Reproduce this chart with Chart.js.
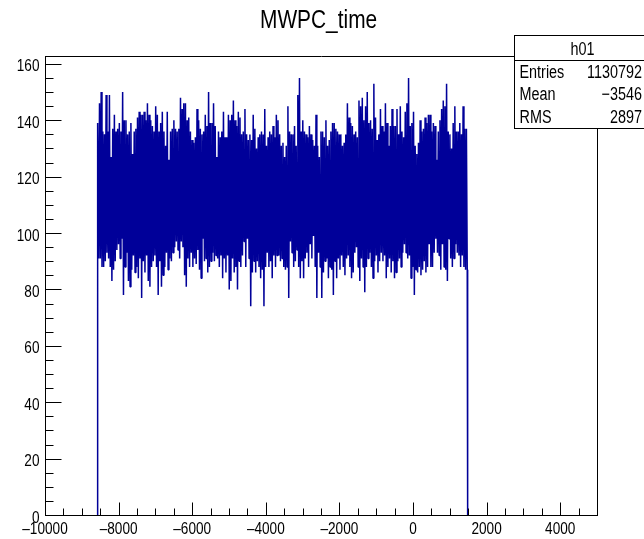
<!DOCTYPE html>
<html><head><meta charset="utf-8">
<script src="https://cdn.jsdelivr.net/npm/chart.js@4.4.1/dist/chart.umd.min.js"></script>
<style>html,body{margin:0;padding:0;background:#fff;overflow:hidden}</style>
</head><body>
<canvas id="c" width="644" height="539"></canvas>
<script>
// ---- text ----
const chartTitle = "MWPC_time";
const histName = "h01";
const statLabels = ["Entries", "Mean", "RMS"];
const statValues = ["1130792", "\u22123546", "2897"];

// ---- axes ----
const xMin = -10000, xMax = 5000;
const xTickValues = [-10000, -8000, -6000, -4000, -2000, 0, 2000, 4000];
const xMinorStep = 500;
const yMin = 0, yMax = 162.8;
const yTickValues = [0, 20, 40, 60, 80, 100, 120, 140, 160];
const yMinorStep = 5;

// ---- histogram (read per ~1.7px column: max / min of the bins in that column) ----
const xFirst = -8575, xLast = 1485;   // filled range of the histogram
const firstBin = 112, lastBin = 58;    // edge bins
const binMaxA = [139,146,150,136,135,149,136,149,127,137,142,136,137,139,136,150,140,140,135,136,139,128,136,137,141,143,142,142,143,140,146,142,140,138,136,145,142,136,139,143,136,131,143,126,136,137,140,137,136,137,148,144,146,146,140,141,136,133,132];
const binMinA = [91,91,88,88,90,93,91,88,83,87,90,94,96,91,98,78,88,93,83,81,87,92,86,88,84,91,77,90,86,92,83,81,88,90,92,88,78,90,81,85,88,93,87,91,90,93,95,97,94,91,97,95,85,81,91,88,93,88,91];
const binMaxB = [134,144,140,137,135,136,142,138,150,139,139,146,138,127,136,134,136,143,134,134,142,140,142,147,140,138,143,141,135,136,144,135,133,135,133,142,137,130,134,135,136,135,144,131,134,136,135,138,134,142,140,135,131,132,127,131,145,136,135,135,138];
const binMinB = [89,94,87,84,98,90,91,86,88,90,93,90,92,91,88,92,84,91,86,92,80,83,91,86,88,80,90,88,92,97,88,98,91,74,86,90,86,90,88,84,87,74,88,93,88,90,84,92,88,92,92,90,91,88,87,88,77,97,93,88,90];
const binMaxC = [131,149,155,136,140,136,135,134,138,135,133,131,142,131,127,136,136,134,140,131,133,136,139,139,137,136,135,135,131,132,135,146,141,139,138,135,136,134,147,145,148,140,145,150,139,140,137,153,141,133,135,144,138,136,146,139,131,138,144,138];
const binMinC = [94,88,84,90,84,91,93,88,96,91,99,88,77,93,88,77,86,90,91,84,88,87,78,90,84,91,87,92,88,85,91,92,88,84,86,93,95,88,83,91,88,79,88,91,93,88,84,90,92,86,90,93,90,92,84,88,91,86,90,84];
const binMaxD = [138,144,135,145,136,134,143,146,155,138,139,143,131,128,132,140,136,137,141,139,142,142,136,139,138,126,136,140,144,147,145,153,136,135,130,139,145,136,136,139,135,145,137,137];
const binMinD = [86,90,91,88,93,96,93,91,92,84,88,78,87,86,88,85,87,90,86,88,96,88,88,93,98,93,92,87,96,88,87,83,98,91,88,91,96,93,92,88,92,88,87,87];

const binMax = [].concat(binMaxA, binMaxB, binMaxC, binMaxD);
const binMin = [].concat(binMinA, binMinB, binMinC, binMinD);

// polyline: histogram drawn as max/min per pixel column
const nCol = binMax.length;
const colW = (xLast - xFirst) / nCol;
const pts = [{x: xFirst, y: 0}, {x: xFirst, y: firstBin}];
for (let i = 0; i < nCol; i++) {
  pts.push({x: xFirst + (i + 0.25) * colW, y: binMax[i]});
  pts.push({x: xFirst + (i + 0.75) * colW, y: binMin[i]});
}
pts.push({x: xLast, y: lastBin});
pts.push({x: xLast, y: 0});

const FONT = '"Liberation Sans", Arial, Helvetica, sans-serif';
const SX = 0.8;  // horizontally condensed text, as in the reference
const fmt = v => String(v).replace('-', '\u2013');

function narrowText(ctx, txt, x, y, size, align, sx) {
  ctx.save();
  ctx.font = size + 'px ' + FONT;
  ctx.textAlign = align;
  ctx.textBaseline = 'alphabetic';
  ctx.translate(x, y);
  ctx.scale(sx || SX, 1);
  ctx.fillText(txt, 0, 0);
  ctx.restore();
}

const rootPlugin = {
  id: 'rootFrame',
  afterDraw(chart) {
    const ctx = chart.ctx, a = chart.chartArea;
    const xs = chart.scales.x, ys = chart.scales.y;
    ctx.save();
    ctx.strokeStyle = '#000';
    ctx.fillStyle = '#000';
    ctx.lineWidth = 1;
    const L = Math.round(a.left) + 0.5, R = Math.round(a.right) + 0.5;
    const T = Math.round(a.top) + 0.5, B = Math.round(a.bottom) + 0.5;
    // frame top and right
    ctx.beginPath();
    ctx.moveTo(L, T); ctx.lineTo(R, T); ctx.lineTo(R, B);
    ctx.stroke();
    // inward ticks
    ctx.beginPath();
    for (let v = yMin; v <= yMax; v += yMinorStep) {
      const y = Math.round(ys.getPixelForValue(v)) + 0.5;
      const len = yTickValues.includes(v) ? 16 : 8;
      ctx.moveTo(L, y); ctx.lineTo(L + len, y);
    }
    for (let v = xMin + xMinorStep; v < xMax; v += xMinorStep) {
      const x = Math.round(xs.getPixelForValue(v)) + 0.5;
      const len = xTickValues.includes(v) ? 13 : 7;
      ctx.moveTo(x, B); ctx.lineTo(x, B - len);
    }
    ctx.stroke();
    // tick labels from the scales' ticks
    ys.ticks.forEach(t => {
      narrowText(ctx, fmt(t.value), 39.5, ys.getPixelForValue(t.value) + 7.5, 17, 'right');
    });
    xs.ticks.forEach(t => {
      narrowText(ctx, fmt(t.value), xs.getPixelForValue(t.value), 533.5, 17, 'center');
    });
    // title
    narrowText(ctx, chartTitle, 318.6, 27.5, 25, 'center', 0.835);
    // stats box
    const bx = 514.5, by = 35.5, bw = 140, bh = 93;
    ctx.fillStyle = '#fff';
    ctx.fillRect(bx, by, bw, bh);
    ctx.strokeRect(bx, by, bw, bh);
    ctx.beginPath(); ctx.moveTo(bx, 60.5); ctx.lineTo(bx + bw, 60.5); ctx.stroke();
    ctx.fillStyle = '#000';
    narrowText(ctx, histName, 582.5, 54.5, 18, 'center');
    const rowY = [77.5, 100, 122.5];
    for (let i = 0; i < statLabels.length; i++) {
      narrowText(ctx, statLabels[i], 519.5, rowY[i], 18, 'left');
      narrowText(ctx, statValues[i], 642, rowY[i], 18, 'right');
    }
    ctx.restore();
  }
};

new Chart(document.getElementById('c'), {
  type: 'line',
  data: { datasets: [{
    data: pts,
    borderColor: '#000099',
    borderWidth: 1.5,
    borderJoinStyle: 'bevel',
    pointRadius: 0,
    fill: false,
    tension: 0
  }]},
  options: {
    responsive: false,
    animation: false,
    devicePixelRatio: 1,
    layout: { padding: { left: 0, right: 47, top: 56, bottom: 0 } },
    plugins: { legend: { display: false }, title: { display: false }, tooltip: { enabled: false } },
    scales: {
      x: {
        type: 'linear', min: xMin, max: xMax,
        afterBuildTicks: s => { s.ticks = xTickValues.map(v => ({value: v})); },
        ticks: { display: false },
        grid: { display: false, drawTicks: false },
        border: { display: true, color: '#000', width: 1 },
        afterFit: s => { s.height = 24; }
      },
      y: {
        type: 'linear', min: yMin, max: yMax,
        afterBuildTicks: s => { s.ticks = yTickValues.map(v => ({value: v})); },
        ticks: { display: false },
        grid: { display: false, drawTicks: false },
        border: { display: true, color: '#000', width: 1 },
        afterFit: s => { s.width = 45; }
      }
    }
  },
  plugins: [rootPlugin]
});
</script>
</body></html>
